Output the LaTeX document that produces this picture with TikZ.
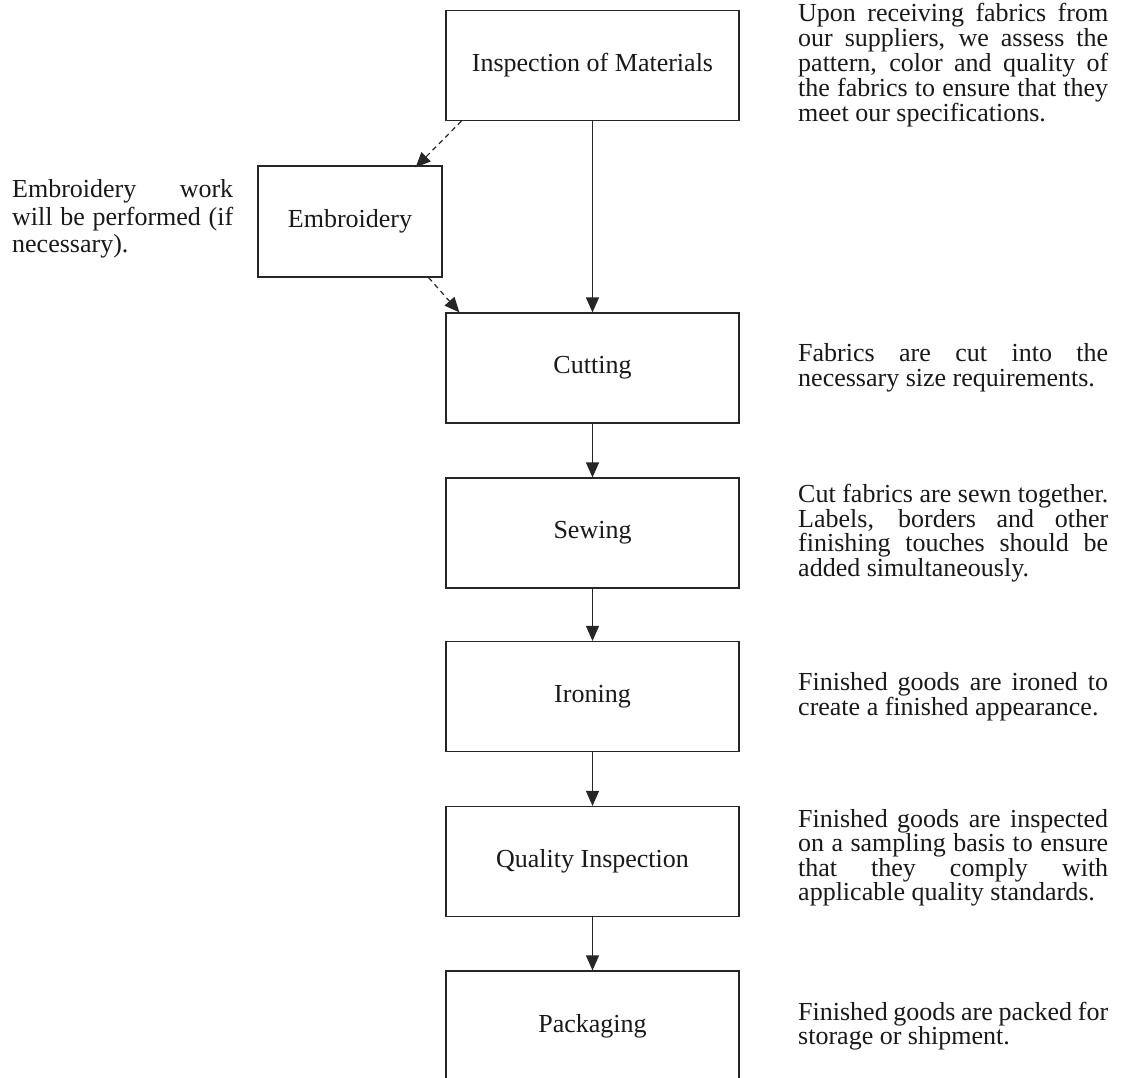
\documentclass[tikz,border=0pt]{standalone}
\usepackage{fontspec}
\setmainfont{Liberation Serif}
\usetikzlibrary{arrows.meta}
\newcommand{\jr}[1]{\makebox[310pt][s]{#1}}
\newcommand{\jlf}[1]{\makebox[221pt][s]{#1}}
\begin{document}
\begin{tikzpicture}[x=1pt,y=-1pt,
 box/.style={draw=black!85, line width=1.2pt, inner sep=0pt, font=\fontsize{26}{28}\selectfont, text=black!90},
 desc/.style={anchor=west, align=left, inner sep=0pt, font=\fontsize{26}{24.5}\selectfont, text=black!90},
 flow/.style={draw=black!85, line width=1.2pt, -{Triangle[length=15pt,width=13pt]}},
 opt/.style={flow, dash pattern=on 5pt off 4pt}]
\clip (0,0) rectangle (1122,1078);
\fill[white] (0,0) rectangle (1122,1078);
% boxes
\node[box, minimum width=293pt, minimum height=110pt] (insp) at (592.5,65.5) {Inspection of Materials};
\node[box, minimum width=184pt, minimum height=111pt] (emb) at (350,221.5) {Embroidery};
\node[box, minimum width=293pt, minimum height=110pt] (cut) at (592.5,368) {Cutting};
\node[box, minimum width=293pt, minimum height=110pt] (sew) at (592.5,533) {Sewing};
\node[box, minimum width=293pt, minimum height=110pt] (iron) at (592.5,696.5) {Ironing};
\node[box, minimum width=293pt, minimum height=110pt] (qi) at (592.5,861.5) {Quality Inspection};
\node[box, minimum width=293pt, minimum height=110pt] (pack) at (592.5,1026) {Packaging};
% descriptions
\node[desc, font=\fontsize{26}{23.5}\selectfont] (d1) at (798,65) {\jr{Upon receiving fabrics from}\\\jr{our suppliers, we assess the}\\\jr{pattern, color and quality of}\\\jr{the fabrics to ensure that they}\\meet our specifications.};
\node[desc, font=\fontsize{26}{27.5}\selectfont] (d0) at (12,219) {\jlf{Embroidery work}\\\jlf{will be performed (if}\\necessary).};
\node[desc] (d2) at (798,368) {\jr{Fabrics are cut into the}\\necessary size requirements.};
\node[desc] (d3) at (798,533) {\jr{Cut fabrics are sewn together.}\\\jr{Labels, borders and other}\\\jr{finishing touches should be}\\added simultaneously.};
\node[desc] (d4) at (798,696.5) {\jr{Finished goods are ironed to}\\create a finished appearance.};
\node[desc] (d5) at (798,858) {\jr{Finished goods are inspected}\\\jr{on a sampling basis to ensure}\\\jr{that they comply with}\\applicable quality standards.};
\node[desc] (d6) at (798,1026) {\jr{Finished goods are packed for}\\storage or shipment.};
% connectors
\draw[flow] (insp.south) -- (cut.north);
\draw[flow] (cut.south) -- (sew.north);
\draw[flow] (sew.south) -- (iron.north);
\draw[flow] (iron.south) -- (qi.north);
\draw[flow] (qi.south) -- (pack.north);
\draw[opt] ([xshift=16pt]insp.south west) -- ([xshift=-27pt,yshift=-2pt]emb.north east);
\draw[opt] ([xshift=-14pt]emb.south east) -- ([xshift=14pt]cut.north west);
\end{tikzpicture}
\end{document}
